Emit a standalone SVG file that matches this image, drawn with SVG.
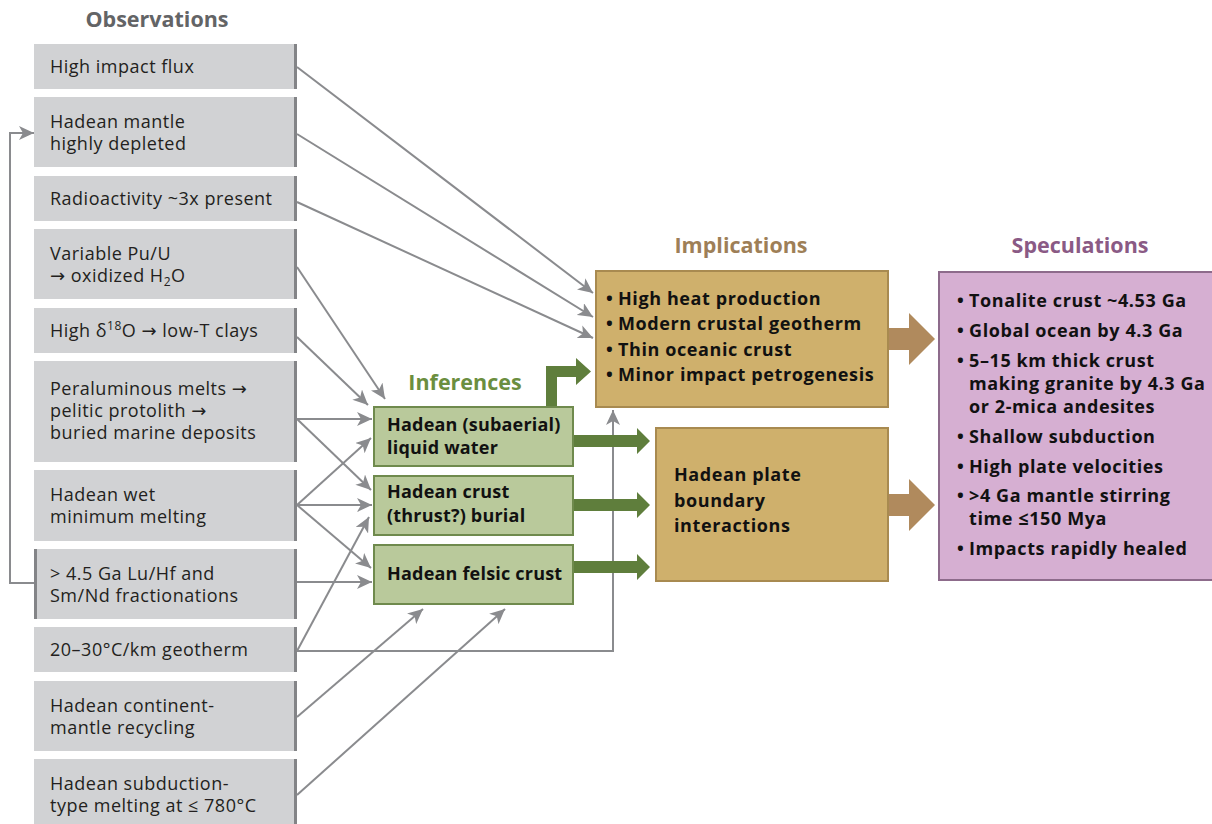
<svg xmlns="http://www.w3.org/2000/svg" width="1212" height="824" viewBox="0 0 1212 824">
<defs>
<style>
.obs rect.b{fill:#d1d2d4}
.obs rect.e{fill:#838487}
.t{font-family:"Open Sans","Liberation Sans",sans-serif;font-size:18px;letter-spacing:0.5px;fill:#231f20}
.ar{font-family:"DejaVu Sans","Liberation Sans",sans-serif}
.tb{font-family:"Open Sans","Liberation Sans",sans-serif;font-size:18px;font-weight:bold;letter-spacing:0.6px;fill:#111}
.ti{letter-spacing:0.2px}
.h{font-family:"Open Sans","Liberation Sans",sans-serif;font-size:21.5px;font-weight:bold;text-anchor:middle}
.inf rect{fill:#b9c99b;stroke:#6f8a4d;stroke-width:2}
.imp rect{fill:#cfb06c;stroke:#a88a50;stroke-width:2}
.spec rect{fill:#d6afd2;stroke:#8d6b8b;stroke-width:2}
.c line,.c polyline{stroke:#8a8b8e;stroke-width:2;fill:none}
.g{fill:#5f7e3c}
.br{fill:#b08a5d}
</style>
<marker id="ah" markerUnits="userSpaceOnUse" markerWidth="16" markerHeight="14" refX="15" refY="7" orient="auto">
<path d="M0,0 L15,7 L0,14 L4,7 Z" fill="#8a8b8e"/>
</marker>
</defs>
<rect width="1212" height="824" fill="#fff"/>

<text class="h" x="157" y="27" fill="#636466">Observations</text>
<text class="h" x="465" y="390" fill="#6b8e3f">Inferences</text>
<text class="h" x="741" y="253" fill="#9e7f57">Implications</text>
<text class="h" x="1080" y="253" fill="#8a5a85">Speculations</text>

<g id="obs1" class="obs"><rect class="b" x="34" y="44" width="263" height="45"/><rect class="e" x="294" y="44" width="3" height="45"/><text class="t" x="50" y="73">High impact flux</text></g>
<g id="obs2" class="obs"><rect class="b" x="34" y="97" width="263" height="70"/><rect class="e" x="294" y="97" width="3" height="70"/><text class="t" x="50" y="128">Hadean mantle</text><text class="t" x="50" y="150">highly depleted</text></g>
<g id="obs3" class="obs"><rect class="b" x="34" y="176" width="263" height="45"/><rect class="e" x="294" y="176" width="3" height="45"/><text class="t" x="50" y="205">Radioactivity ~3x present</text></g>
<g id="obs4" class="obs"><rect class="b" x="34" y="229" width="263" height="70"/><rect class="e" x="294" y="229" width="3" height="70"/><text class="t" x="50" y="260">Variable Pu/U</text><text class="t" x="50" y="282"><tspan class="ar">→</tspan> oxidized H<tspan dy="4" font-size="12">2</tspan><tspan dy="-4">O</tspan></text></g>
<g id="obs5" class="obs"><rect class="b" x="34" y="308" width="263" height="45"/><rect class="e" x="294" y="308" width="3" height="45"/><text class="t" x="50" y="337">High δ<tspan dy="-7" font-size="12">18</tspan><tspan dy="7">O </tspan><tspan class="ar">→</tspan> low-T clays</text></g>
<g id="obs6" class="obs"><rect class="b" x="34" y="361" width="263" height="101"/><rect class="e" x="294" y="361" width="3" height="101"/><text class="t" x="50" y="395">Peraluminous melts <tspan class="ar">→</tspan></text><text class="t" x="50" y="417">pelitic protolith <tspan class="ar">→</tspan></text><text class="t" x="50" y="439">buried marine deposits</text></g>
<g id="obs7" class="obs"><rect class="b" x="34" y="470" width="263" height="71"/><rect class="e" x="294" y="470" width="3" height="71"/><text class="t" x="50" y="501">Hadean wet</text><text class="t" x="50" y="523">minimum melting</text></g>
<g id="obs8" class="obs"><rect class="b" x="34" y="549" width="263" height="70"/><rect class="e" x="294" y="549" width="3" height="70"/><rect class="e" x="34" y="549" width="3" height="70"/><text class="t" x="50" y="580">&gt; 4.5 Ga Lu/Hf and</text><text class="t" x="50" y="602">Sm/Nd fractionations</text></g>
<g id="obs9" class="obs"><rect class="b" x="34" y="627" width="263" height="45"/><rect class="e" x="294" y="627" width="3" height="45"/><text class="t" x="50" y="656">20–30°C/km geotherm</text></g>
<g id="obs10" class="obs"><rect class="b" x="34" y="681" width="263" height="70"/><rect class="e" x="294" y="681" width="3" height="70"/><text class="t" x="50" y="712">Hadean continent-</text><text class="t" x="50" y="734">mantle recycling</text></g>
<g id="obs11" class="obs"><rect class="b" x="34" y="759" width="263" height="70"/><rect class="e" x="294" y="759" width="3" height="70"/><text class="t" x="50" y="790">Hadean subduction-</text><text class="t" x="50" y="812">type melting at ≤ 780°C</text></g>

<g id="connectors" class="c">
<line x1="297" y1="67" x2="593" y2="293" marker-end="url(#ah)"/>
<line x1="297" y1="134" x2="593" y2="317" marker-end="url(#ah)"/>
<line x1="297" y1="202" x2="593" y2="338" marker-end="url(#ah)"/>
<line x1="297" y1="267" x2="385" y2="399" marker-end="url(#ah)"/>
<line x1="297" y1="337" x2="368" y2="405" marker-end="url(#ah)"/>
<line x1="297" y1="419" x2="372" y2="419" marker-end="url(#ah)"/>
<line x1="297" y1="419" x2="371" y2="490" marker-end="url(#ah)"/>
<line x1="297" y1="505" x2="371" y2="438" marker-end="url(#ah)"/>
<line x1="297" y1="505" x2="372" y2="505" marker-end="url(#ah)"/>
<line x1="297" y1="505" x2="371" y2="568" marker-end="url(#ah)"/>
<line x1="297" y1="582" x2="372" y2="582" marker-end="url(#ah)"/>
<line x1="297" y1="651" x2="369" y2="517" marker-end="url(#ah)"/>
<polyline points="297,651 613,651 613,410" marker-end="url(#ah)"/>
<line x1="297" y1="717" x2="423" y2="609" marker-end="url(#ah)"/>
<line x1="297" y1="795" x2="505" y2="609" marker-end="url(#ah)"/>
<polyline points="34,583 10,583 10,133 34,133" marker-end="url(#ah)"/>
<path class="g" d="M546,407 L546,366 L576,366 L576,358 L591,371.5 L576,385 L576,377 L557,377 L557,407 Z"/>
<path class="g" d="M573,435 L637,435 L637,428 L650,441 L637,454 L637,447 L573,447 Z"/>
<path class="g" d="M573,499 L637,499 L637,492 L650,505 L637,518 L637,511 L573,511 Z"/>
<path class="g" d="M573,561 L637,561 L637,554 L650,567 L637,580 L637,573 L573,573 Z"/>
<path class="br" d="M888,328 L909,328 L909,313 L935,339 L909,365 L909,350 L888,350 Z"/>
<path class="br" d="M888,494 L909,494 L909,479 L935,505 L909,531 L909,516 L888,516 Z"/>
</g>

<g id="inf1" class="inf"><rect x="374" y="407" width="199" height="59"/><text class="tb ti" x="387" y="431">Hadean (subaerial)</text><text class="tb ti" x="387" y="454">liquid water</text></g>
<g id="inf2" class="inf"><rect x="374" y="476" width="199" height="59"/><text class="tb ti" x="387" y="498">Hadean crust</text><text class="tb ti" x="387" y="522">(thrust?) burial</text></g>
<g id="inf3" class="inf"><rect x="374" y="545" width="199" height="59"/><text class="tb ti" x="387" y="580">Hadean felsic crust</text></g>

<g id="imp1" class="imp"><rect x="596" y="271" width="292" height="136"/>
<text class="tb" x="606" y="305">•</text><text class="tb" x="618" y="305">High heat production</text>
<text class="tb" x="606" y="330">•</text><text class="tb" x="618" y="330">Modern crustal geotherm</text>
<text class="tb" x="606" y="356">•</text><text class="tb" x="618" y="356">Thin oceanic crust</text>
<text class="tb" x="606" y="381">•</text><text class="tb" x="618" y="381">Minor impact petrogenesis</text></g>
<g id="imp2" class="imp"><rect x="656" y="428" width="232" height="153"/>
<text class="tb" x="674" y="481">Hadean plate</text><text class="tb" x="674" y="507">boundary</text><text class="tb" x="674" y="532">interactions</text></g>

<g id="spec" class="spec"><rect x="939" y="272" width="280" height="308"/>
<text class="tb" x="957" y="307">•</text><text class="tb" x="969" y="307">Tonalite crust ~4.53 Ga</text>
<text class="tb" x="957" y="337">•</text><text class="tb" x="969" y="337">Global ocean by 4.3 Ga</text>
<text class="tb" x="957" y="367">•</text><text class="tb" x="969" y="367">5–15 km thick crust</text>
<text class="tb" x="969" y="390">making granite by 4.3 Ga</text>
<text class="tb" x="969" y="413">or 2-mica andesites</text>
<text class="tb" x="957" y="443">•</text><text class="tb" x="969" y="443">Shallow subduction</text>
<text class="tb" x="957" y="473">•</text><text class="tb" x="969" y="473">High plate velocities</text>
<text class="tb" x="957" y="502">•</text><text class="tb" x="969" y="502">&gt;4 Ga mantle stirring</text>
<text class="tb" x="969" y="525">time ≤150 Mya</text>
<text class="tb" x="957" y="555">•</text><text class="tb" x="969" y="555">Impacts rapidly healed</text></g>
</svg>
